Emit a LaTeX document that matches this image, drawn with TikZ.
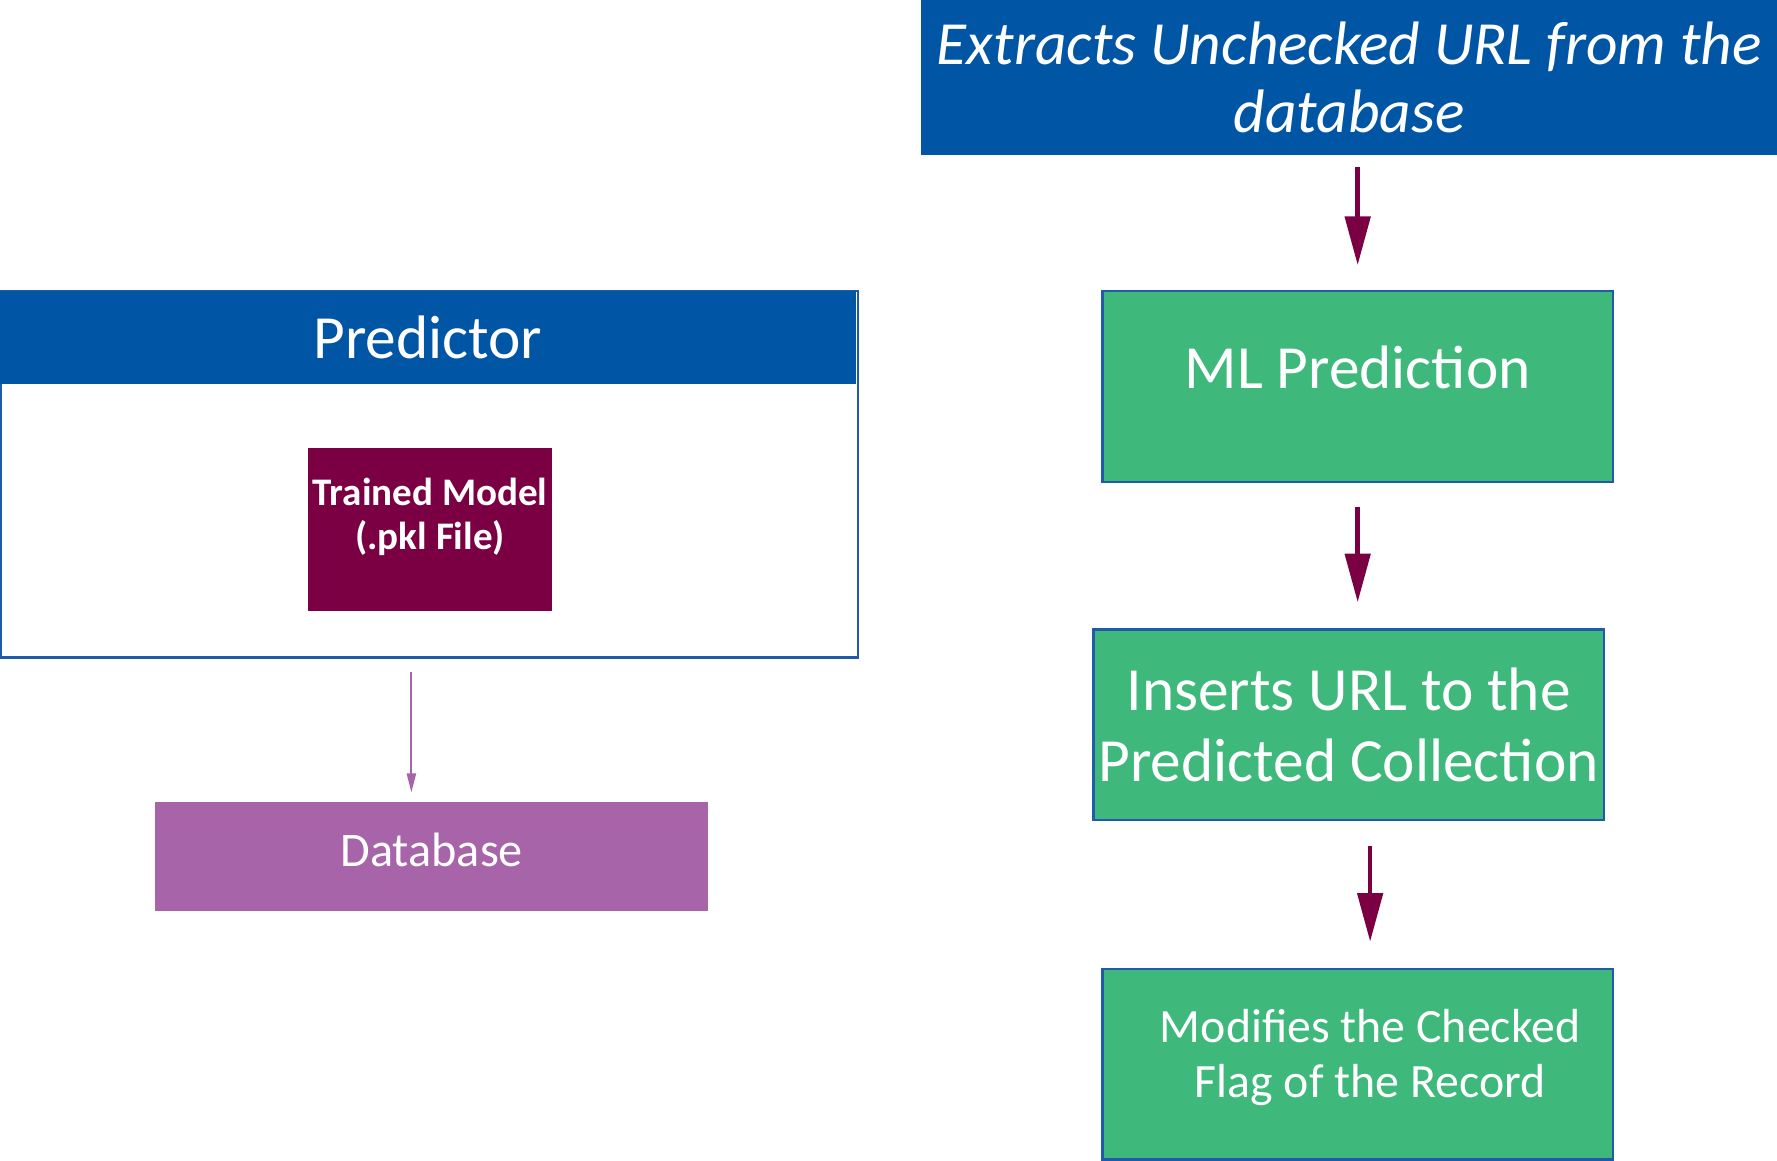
\documentclass[tikz,border=0pt]{standalone}
\usepackage{fontspec}
\setmainfont{Carlito}
\usetikzlibrary{arrows.meta}
\definecolor{hdrblue}{RGB}{0,85,165}
\definecolor{edgeblue}{RGB}{32,90,170}
\definecolor{modelred}{RGB}{123,0,67}
\definecolor{dbpurple}{RGB}{167,100,168}
\definecolor{stepgreen}{RGB}{62,184,123}

\begin{document}
\begin{tikzpicture}[x=0.01cm,y=-0.01cm,
    box/.style={rectangle,inner sep=0pt,text=white,align=center,font=\fontsize{15.4pt}{17.8pt}\selectfont},
    header/.style={box,fill=hdrblue},
    stepbox/.style={box,fill=stepgreen,draw=edgeblue,line width=0.6pt,minimum width=4.5cm,minimum height=1.68cm},
    flow/.style={modelred,line width=1.15pt,-{Triangle[length=12.2pt,width=6.3pt]}},
    dbflow/.style={dbpurple,line width=0.5pt,-{Triangle[length=4.8pt,width=2.3pt]}}]
    \useasboundingbox (0,0) rectangle (1568,1024);
    \node[draw=edgeblue,line width=0.6pt,minimum width=7.56cm,minimum height=3.23cm] (frame) at (379,418.5) {};
    \node[header,minimum width=7.55cm,minimum height=0.82cm] (pred) at (377.5,298) {Predictor};
    \node[box,fill=modelred,minimum width=2.15cm,minimum height=1.44cm,
        font=\bfseries\fontsize{9.8pt}{11.1pt}\selectfont,text height=0.46cm,text depth=0.10cm] (model) at (379.5,467) {Trained Model\\(.pkl File)};
    \node[box,fill=dbpurple,minimum width=4.88cm,minimum height=0.96cm,font=\fontsize{12.1pt}{13.9pt}\selectfont,
        text height=0.30cm,text depth=0.12cm] (db) at (381,756) {Database};
    \node[header,minimum width=7.55cm,minimum height=1.37cm,font=\itshape\fontsize{15.4pt}{17pt}\selectfont] (ext) at (1190.5,68.5) {Extracts Unchecked URL from the\\database};
    \node[stepbox,text height=0.38cm,text depth=0.34cm] (ml) at (1198,341) {ML Prediction};
    \node[stepbox] (ins) at (1190,639.5) {Inserts URL to the\\Predicted Collection};
    \node[stepbox,font=\fontsize{12pt}{13.7pt}\selectfont,text height=0.68cm,text depth=0.10cm] (mod) at (1198,939)
        {\hspace*{0.22cm}Modifies the Checked\\\hspace*{0.22cm}Flag of the Record};
    \coordinate (a1) at (363,0);
    \coordinate (a3) at (1209,0);
    \draw[flow,shorten <=0.1cm,shorten >=0.22cm] (ext.south -| ml.north) -- (ml.north);
    \draw[flow,shorten <=0.21cm,shorten >=0.23cm] (ml.south) -- (ins.north -| ml.south);
    \draw[flow,shorten <=0.22cm,shorten >=0.23cm] (ins.south -| a3) -- (mod.north -| a3);
    \draw[dbflow,shorten <=0.12cm,shorten >=0.08cm] (frame.south -| a1) -- (db.north -| a1);
\end{tikzpicture}
\end{document}
